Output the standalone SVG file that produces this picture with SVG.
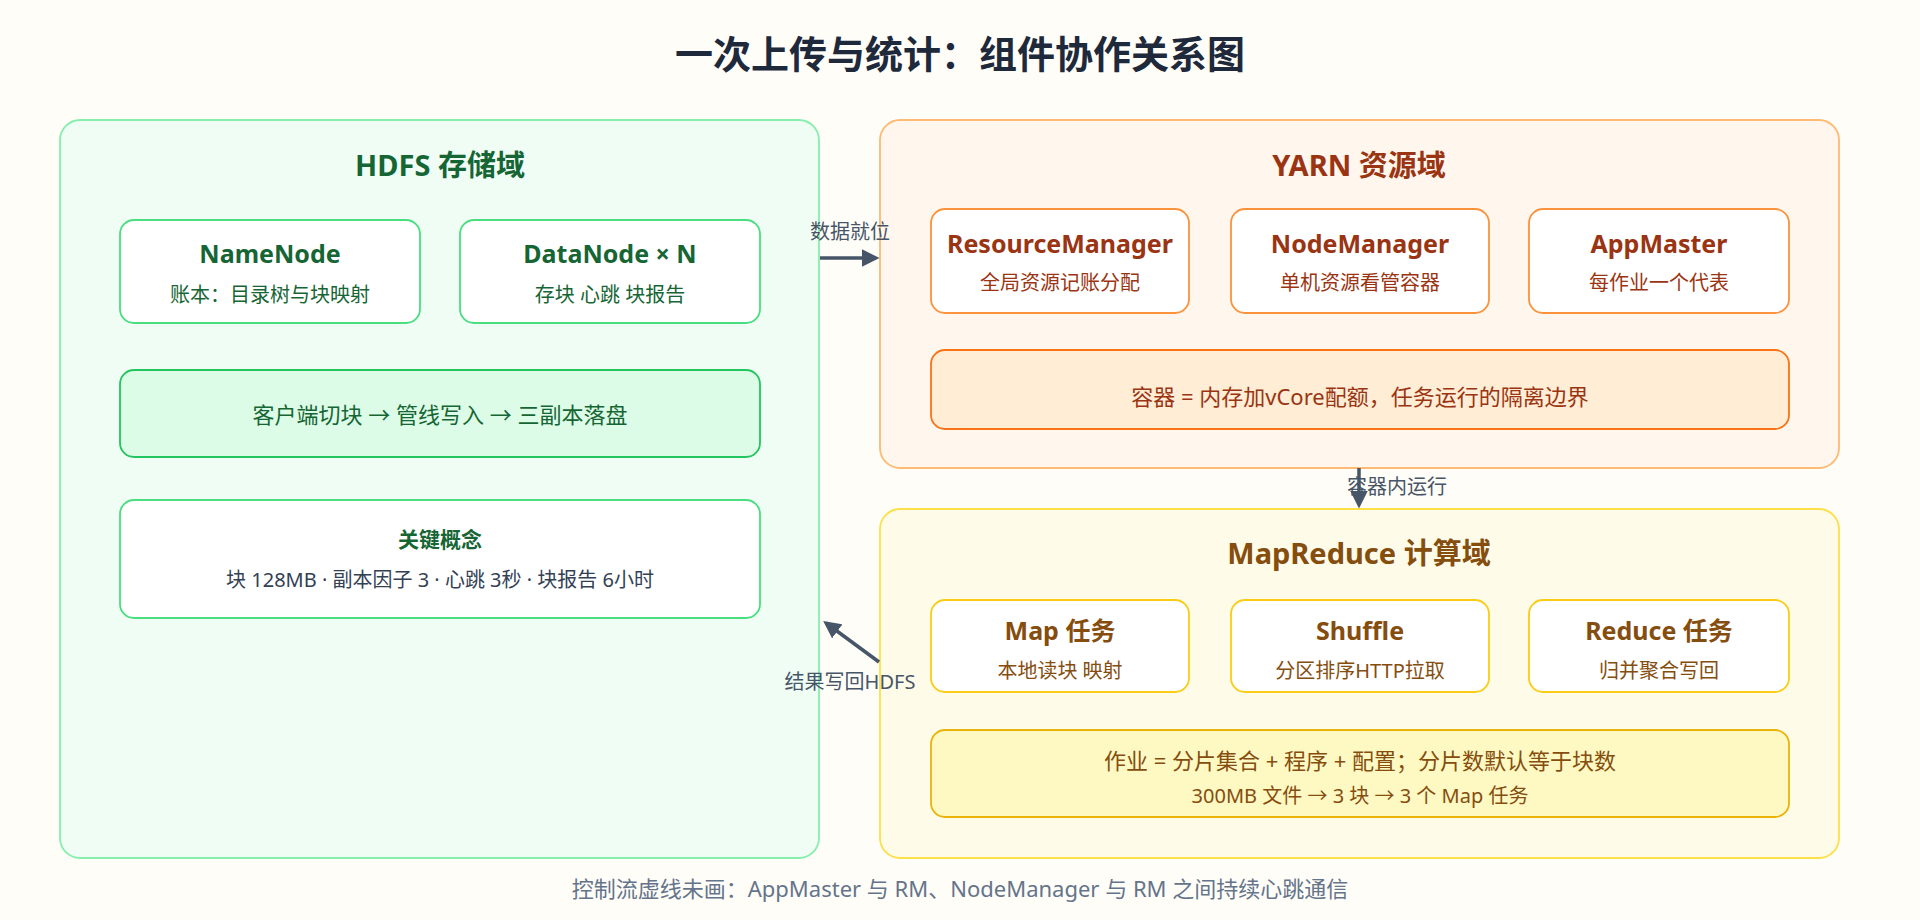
<svg xmlns="http://www.w3.org/2000/svg" width="1920" height="920" viewBox="0 0 1920 920">
<style>
text{font-family:"Noto Sans","Noto Sans CJK SC",sans-serif;text-anchor:middle}
.t{font-size:25px;font-weight:bold}
.s{font-size:20px}
.pt{font-size:29px;font-weight:bold}
.box{fill:#fff;stroke-width:1.8}
.g .box{stroke:#4ade80}.g text{fill:#166534}
.o .box{stroke:#fb923c}.o text{fill:#9a3412}
.y .box{stroke:#facc15}.y text{fill:#854d0e}
.c{stroke:#475569;stroke-width:3.5;fill:none}
.lab{font-size:20px;fill:#475569}
</style>
<defs><marker id="a" viewBox="0 0 10 10" refX="8" refY="5" markerWidth="5" markerHeight="5" orient="auto"><path d="M0,0L10,5L0,10z" fill="#475569"/></marker></defs>
<rect width="1920" height="920" fill="#fffdf7"/>
<text x="960" y="68" style="font-size:38px;font-weight:bold;fill:#1e293b">一次上传与统计：组件协作关系图</text>
<g id="hdfs" class="g">
<rect x="60" y="120" width="759" height="738" rx="20" fill="#effdf4" stroke="#86efac" stroke-width="1.8"/>
<text x="440" y="176" class="pt">HDFS 存储域</text>
<g id="namenode"><rect class="box" x="120" y="220" width="300" height="103" rx="14"/><text x="270" y="263" class="t">NameNode</text><text x="270" y="302" class="s">账本：目录树与块映射</text></g>
<g id="datanode"><rect class="box" x="460" y="220" width="300" height="103" rx="14"/><text x="610" y="263" class="t">DataNode × N</text><text x="610" y="302" class="s">存块 心跳 块报告</text></g>
<g id="client"><rect x="120" y="370" width="640" height="87" rx="14" fill="#dcfce7" stroke="#22c55e" stroke-width="1.8"/><text x="440" y="423" style="font-size:22px">客户端切块 → 管线写入 → 三副本落盘</text></g>
<g id="concepts"><rect class="box" x="120" y="500" width="640" height="118" rx="14" stroke="#86efac"/><text x="440" y="547" style="font-size:21px;font-weight:bold">关键概念</text><text x="440" y="587" class="s" style="fill:#334155">块 128MB · 副本因子 3 · 心跳 3秒 · 块报告 6小时</text></g>
</g>
<g id="yarn" class="o">
<rect x="880" y="120" width="959" height="348" rx="20" fill="#fff7ed" stroke="#fdba74" stroke-width="1.8"/>
<text x="1359" y="176" class="pt">YARN 资源域</text>
<g id="rm"><rect class="box" x="931" y="209" width="258" height="104" rx="14"/><text x="1060" y="253" class="t">ResourceManager</text><text x="1060" y="290" class="s">全局资源记账分配</text></g>
<g id="nm"><rect class="box" x="1231" y="209" width="258" height="104" rx="14"/><text x="1360" y="253" class="t">NodeManager</text><text x="1360" y="290" class="s">单机资源看管容器</text></g>
<g id="am"><rect class="box" x="1529" y="209" width="260" height="104" rx="14"/><text x="1659" y="253" class="t">AppMaster</text><text x="1659" y="290" class="s">每作业一个代表</text></g>
<g id="container"><rect x="931" y="350" width="858" height="79" rx="14" fill="#ffedd5" stroke="#f97316" stroke-width="1.8"/><text x="1360" y="405" style="font-size:22px">容器 = 内存加vCore配额，任务运行的隔离边界</text></g>
</g>
<g id="mr" class="y">
<rect x="880" y="509" width="959" height="349" rx="20" fill="#fefce8" stroke="#fde047" stroke-width="1.8"/>
<text x="1359" y="564" class="pt">MapReduce 计算域</text>
<g id="map"><rect class="box" x="931" y="600" width="258" height="92" rx="14"/><text x="1060" y="640" class="t">Map 任务</text><text x="1060" y="678" class="s">本地读块 映射</text></g>
<g id="shuffle"><rect class="box" x="1231" y="600" width="258" height="92" rx="14"/><text x="1360" y="640" class="t">Shuffle</text><text x="1360" y="678" class="s">分区排序HTTP拉取</text></g>
<g id="reduce"><rect class="box" x="1529" y="600" width="260" height="92" rx="14"/><text x="1659" y="640" class="t">Reduce 任务</text><text x="1659" y="678" class="s">归并聚合写回</text></g>
<g id="job"><rect x="931" y="730" width="858" height="87" rx="14" fill="#fef9c3" stroke="#eab308" stroke-width="1.8"/><text x="1360" y="769" style="font-size:22px">作业 = 分片集合 + 程序 + 配置；分片数默认等于块数</text><text x="1360" y="803" class="s">300MB 文件 → 3 块 → 3 个 Map 任务</text></g>
</g>
<g id="connectors">
<line class="c" x1="820" y1="258" x2="876" y2="258" marker-end="url(#a)"/>
<text x="850" y="239" class="lab">数据就位</text>
<line class="c" x1="1359" y1="468" x2="1359" y2="505" marker-end="url(#a)"/>
<text x="1397" y="494" class="lab">容器内运行</text>
<line class="c" x1="879" y1="662" x2="826" y2="623" marker-end="url(#a)"/>
<text x="850" y="689" class="lab">结果写回HDFS</text>
</g>
<text x="960" y="897" style="font-size:22px;fill:#64748b">控制流虚线未画：AppMaster 与 RM、NodeManager 与 RM 之间持续心跳通信</text>
</svg>
